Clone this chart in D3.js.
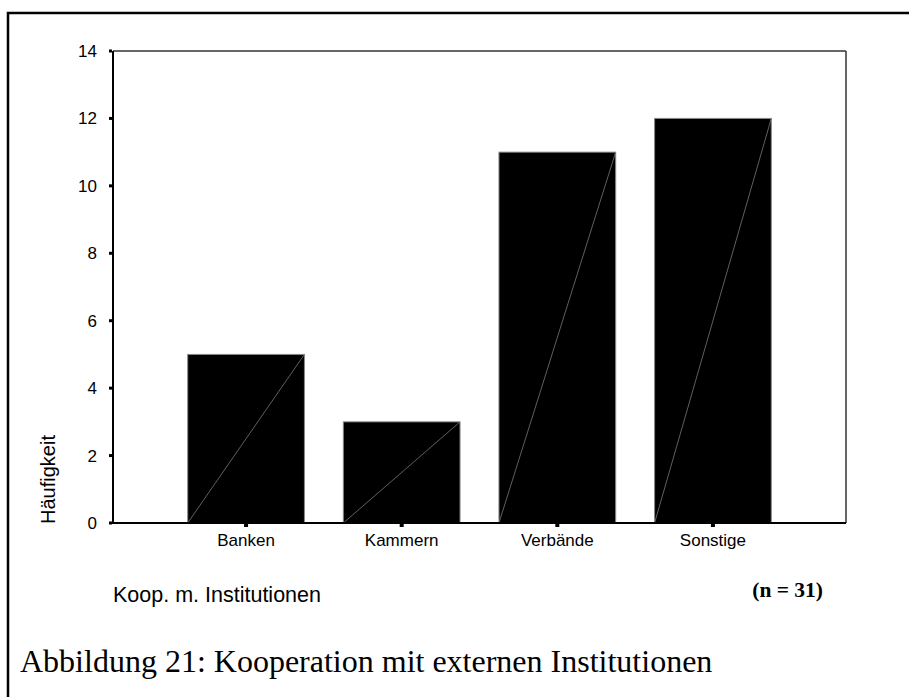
<!DOCTYPE html>
<html><head><meta charset="utf-8">
<script src="https://cdn.jsdelivr.net/npm/d3@7"></script>
<style>html,body{margin:0;padding:0;background:#fff;}</style>
</head><body>
<script>
const categories = ["Banken", "Kammern", "Verbände", "Sonstige"];
const values = [5, 3, 11, 12];
const yTicks = [0, 2, 4, 6, 8, 10, 12, 14];
const yLabel = "Häufigkeit";
const xLabel = "Koop. m. Institutionen";
const nNote = "(n = 31)";
const caption = "Abbildung 21: Kooperation mit externen Institutionen";

const W = 909, H = 697;
const svg = d3.select("body").append("svg").attr("width", W).attr("height", H);

// outer frame
svg.append("rect").attr("x", 8).attr("y", 13).attr("width", 1000).attr("height", 800)
  .attr("fill", "none").attr("stroke", "#000").attr("stroke-width", 2.5);

const L = 113, R = 846, T = 51, B = 523;
const x = d3.scaleBand().domain(categories).range([L, R]).paddingInner(0.25).paddingOuter(0.48);
const y = d3.scaleLinear().domain([0, 14]).range([B, T]);

// plot frame top & right
svg.append("line").attr("x1", L).attr("x2", R).attr("y1", T).attr("y2", T).attr("stroke", "#333").attr("stroke-width", 1.5);
svg.append("line").attr("x1", R).attr("x2", R).attr("y1", T).attr("y2", B).attr("stroke", "#333").attr("stroke-width", 1.5);

// bars
const g = svg.append("g");
categories.forEach((c, i) => {
  const x0 = x(c), w = x.bandwidth(), yv = y(values[i]);
  g.append("rect").attr("x", x0).attr("y", yv).attr("width", w).attr("height", B - yv)
    .attr("fill", "#000").attr("stroke", "#888").attr("stroke-width", 1);
  g.append("line").attr("x1", x0).attr("y1", B).attr("x2", x0 + w).attr("y2", yv)
    .attr("stroke", "#777").attr("stroke-width", 0.8);
});

// axes lines
svg.append("line").attr("x1", L).attr("x2", L).attr("y1", T).attr("y2", B + 1).attr("stroke", "#000").attr("stroke-width", 2);
svg.append("line").attr("x1", L).attr("x2", R).attr("y1", B).attr("y2", B).attr("stroke", "#000").attr("stroke-width", 2);

// y ticks
const yAxis = svg.append("g");
yTicks.forEach(t => {
  yAxis.append("rect").attr("x", L - 4).attr("y", y(t) - 1.5).attr("width", 3).attr("height", 3).attr("fill", "#000");
  yAxis.append("text").attr("x", 97).attr("y", y(t)).attr("dy", "0.35em").attr("text-anchor", "end")
    .attr("font-family", "Liberation Sans, Arial, sans-serif").attr("font-size", 17).text(t);
});

// x ticks
categories.forEach(c => {
  const cx = x(c) + x.bandwidth() / 2;
  svg.append("rect").attr("x", cx - 2).attr("y", B + 1).attr("width", 4).attr("height", 3).attr("fill", "#000");
  svg.append("text").attr("x", cx).attr("y", 546).attr("text-anchor", "middle")
    .attr("font-family", "Liberation Sans, Arial, sans-serif").attr("font-size", 17).text(c);
});

// axis titles
svg.append("text").attr("transform", `translate(55,${B + 1}) rotate(-90)`).attr("text-anchor", "start")
  .attr("font-family", "Liberation Sans, Arial, sans-serif").attr("font-size", 20).text(yLabel);
svg.append("text").attr("x", L).attr("y", 602)
  .attr("font-family", "Liberation Sans, Arial, sans-serif").attr("font-size", 21.5).text(xLabel);
svg.append("text").attr("x", 823).attr("y", 597).attr("text-anchor", "end")
  .attr("font-family", "Liberation Serif, Times New Roman, serif").attr("font-weight", "bold").attr("font-size", 21.5).text(nNote);

// caption
svg.append("text").attr("x", 20).attr("y", 672)
  .attr("font-family", "Liberation Serif, Times New Roman, serif").attr("font-size", 32).text(caption);
</script>
</body></html>
